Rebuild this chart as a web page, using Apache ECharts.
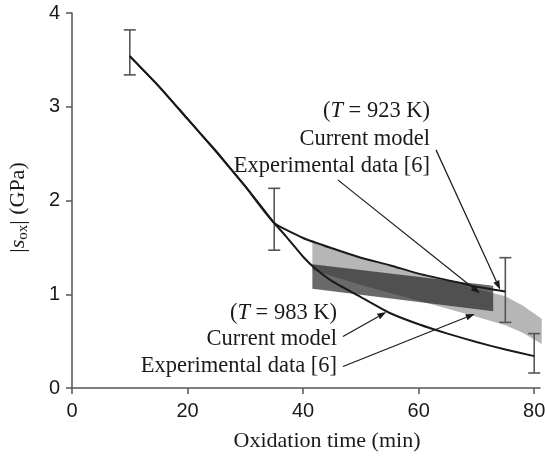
<!DOCTYPE html>
<html>
<head>
<meta charset="utf-8">
<script src="https://cdn.jsdelivr.net/npm/echarts@6/dist/echarts.min.js"></script>
<style>
html,body{margin:0;padding:0;background:#fff;}
#chart{width:545px;height:459px;}
</style>
</head>
<body>
<div id="chart"></div>
<script>
// 模型曲线 (T=923K / T=983K)
var curve923 = [[10,3.54],[15,3.22],[20,2.87],[25,2.52],[30,2.15],[35,1.76],[40,1.60],[45,1.49],[50,1.39],[55,1.31],[60,1.22],[65,1.15],[70,1.08],[75,1.03]];
var curve983 = [[10,3.54],[15,3.22],[20,2.87],[25,2.52],[30,2.15],[35,1.76],[37,1.62],[40,1.40],[42,1.28],[45,1.14],[50,0.97],[55,0.80],[60,0.68],[65,0.58],[70,0.49],[75,0.41],[80,0.34]];

// 实验数据带 [6]
var lightX = [41.6,50,60,70,75,78,81.3];
var lightTop = [1.55,1.39,1.22,1.06,0.98,0.88,0.74];
var lightBottom = [1.26,1.10,0.93,0.76,0.67,0.59,0.47];
var darkX = [41.6,72.9];
var darkTop = [1.32,1.09];
var darkBottom = [1.06,0.82];

// 误差棒
var errX = [10,35,75,80];
var errLow = [3.34,1.47,0.70,0.16];
var errHigh = [3.82,2.13,1.39,0.58];

// 箭头 [起点x, 起点y, 终点x, 终点y]
var arrows = [
    [63.0,2.54,74.1,1.05],
    [46.0,2.22,70.6,1.01],
    [46.9,0.55,54.4,0.81],
    [46.9,0.23,69.7,0.79]
];

var xTicks = [0,20,40,60,80];

var serif = '"Liberation Serif","DejaVu Serif",serif';
var sans = '"Liberation Sans",Arial,sans-serif';

function bandItem(xs, top, bottom, color, opacity) {
    return function (params, api) {
        var pts = [];
        for (var i = 0; i < xs.length; i++) pts.push(api.coord([xs[i], top[i]]));
        for (var j = xs.length - 1; j >= 0; j--) pts.push(api.coord([xs[j], bottom[j]]));
        return {type:'polygon', shape:{points:pts}, style:{fill:color, opacity:opacity}};
    };
}

var myChart = echarts.init(document.getElementById('chart'));
myChart.setOption({
    animation: false,
    grid: {left:72, right:5, top:13, bottom:71, containLabel:false, outerBoundsMode:'none'},
    xAxis: {
        type:'value', min:0, max:81, interval:20,
        name:'Oxidation time (min)', nameLocation:'middle', nameGap:42,
        nameTextStyle:{fontFamily:serif, fontSize:22, color:'#1a1a1a', padding:[0,0,0,42]},
        axisLine:{lineStyle:{color:'#555', width:1.5}},
        axisTick:{customValues:xTicks, length:6, lineStyle:{color:'#555', width:1.5}},
        axisLabel:{customValues:xTicks, margin:13, fontFamily:sans, fontSize:20, color:'#1a1a1a'},
        splitLine:{show:false}
    },
    yAxis: {
        type:'value', min:0, max:4, interval:1,
        name:'|{i|s}{sub|ox}| (GPa)', nameLocation:'middle', nameGap:41,
        nameTextStyle:{
            fontFamily:serif, fontSize:22, color:'#1a1a1a', padding:[0,14,0,0],
            rich:{
                i:{fontFamily:serif, fontSize:22, fontStyle:'italic', color:'#1a1a1a'},
                sub:{fontFamily:serif, fontSize:15, color:'#1a1a1a', padding:[10,0,0,0]}
            }
        },
        axisLine:{show:true, lineStyle:{color:'#555', width:1.5}},
        axisTick:{show:true, length:6, lineStyle:{color:'#555', width:1.5}},
        axisLabel:{margin:12, fontFamily:sans, fontSize:20, color:'#1a1a1a'},
        splitLine:{show:false}
    },
    graphic: [
        {type:'text', right:545-430, top:100, style:{text:'({i|T} = 923 K)', font:'22.5px '+serif, fill:'#1a1a1a', rich:{i:{fontStyle:'italic', fontFamily:serif, fontSize:22.5}}}},
        {type:'text', right:545-430, top:128, style:{text:'Current model', font:'22.5px '+serif, fill:'#1a1a1a'}},
        {type:'text', right:545-430, top:155, style:{text:'Experimental data [6]', font:'22.5px '+serif, fill:'#1a1a1a'}},
        {type:'text', right:545-337, top:302, style:{text:'({i|T} = 983 K)', font:'22.5px '+serif, fill:'#1a1a1a', rich:{i:{fontStyle:'italic', fontFamily:serif, fontSize:22.5}}}},
        {type:'text', right:545-337, top:328, style:{text:'Current model', font:'22.5px '+serif, fill:'#1a1a1a'}},
        {type:'text', right:545-337, top:355, style:{text:'Experimental data [6]', font:'22.5px '+serif, fill:'#1a1a1a'}}
    ],
    series: [
        {
            type:'custom', name:'light band', silent:true, z:1,
            renderItem: bandItem(lightX, lightTop, lightBottom, '#b6b6b6', 1),
            data:[[lightX[0], lightTop[0]]]
        },
        {
            type:'custom', name:'dark band', silent:true, z:2,
            renderItem: bandItem(darkX, darkTop, darkBottom, '#1a1a1a', 0.65),
            data:[[darkX[0], darkTop[0]]]
        },
        {
            type:'custom', name:'error', silent:true, z:3,
            renderItem: function (params, api) {
                var x = api.value(0);
                var lo = api.coord([x, api.value(1)]);
                var hi = api.coord([x, api.value(2)]);
                var w = 6;
                var st = {stroke:'#555', lineWidth:1.6};
                return {type:'group', children:[
                    {type:'line', shape:{x1:lo[0], y1:lo[1], x2:hi[0], y2:hi[1]}, style:st},
                    {type:'line', shape:{x1:lo[0]-w, y1:lo[1], x2:lo[0]+w, y2:lo[1]}, style:st},
                    {type:'line', shape:{x1:hi[0]-w, y1:hi[1], x2:hi[0]+w, y2:hi[1]}, style:st}
                ]};
            },
            data: errX.map(function (x, i) { return [x, errLow[i], errHigh[i]]; })
        },
        {
            type:'line', name:'923K', data:curve923, showSymbol:false, smooth:0.15, z:4,
            lineStyle:{color:'#1a1a1a', width:2}
        },
        {
            type:'line', name:'983K', data:curve983, showSymbol:false, smooth:0.15, z:4,
            lineStyle:{color:'#1a1a1a', width:2}
        },
        {
            type:'custom', name:'arrows', silent:true, z:5,
            renderItem: function (params, api) {
                var p0 = api.coord([api.value(0), api.value(1)]);
                var p1 = api.coord([api.value(2), api.value(3)]);
                var dx = p1[0]-p0[0], dy = p1[1]-p0[1];
                var len = Math.sqrt(dx*dx+dy*dy);
                var ux = dx/len, uy = dy/len;
                var hl = 9, hw = 3.2;
                var bx = p1[0]-ux*hl, by = p1[1]-uy*hl;
                return {type:'group', children:[
                    {type:'line', shape:{x1:p0[0], y1:p0[1], x2:bx, y2:by}, style:{stroke:'#1a1a1a', lineWidth:1.2}},
                    {type:'polygon', shape:{points:[[p1[0],p1[1]],[bx-uy*hw, by+ux*hw],[bx+uy*hw, by-ux*hw]]}, style:{fill:'#1a1a1a'}}
                ]};
            },
            data: arrows
        }
    ]
});
</script>
</body>
</html>
